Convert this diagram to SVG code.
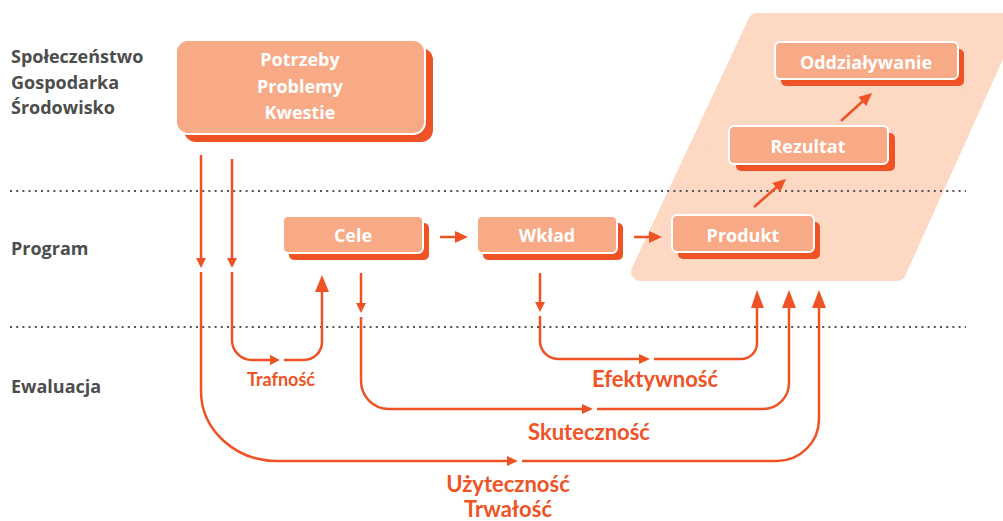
<svg xmlns="http://www.w3.org/2000/svg" width="1003" height="521" viewBox="0 0 1003 521">
<style>
.lbl{font-family:"Open Sans","Noto Sans",sans-serif;font-weight:700;font-size:18px;fill:#4d4d4d}
.bx{fill:#f8a985;stroke:#ffffff;stroke-width:2}
.sh{fill:#ef5325}
.bt{font-family:"Open Sans","Noto Sans",sans-serif;font-weight:700;font-size:18px;fill:#ffffff;text-anchor:middle}
.ol{font-family:Lato,"Open Sans",sans-serif;font-weight:700;font-size:22px;fill:#ef5325;text-anchor:middle}
.ln{fill:none;stroke:#ef5325;stroke-width:2.5}
.ah{fill:#ef5325}
.dot{fill:none;stroke:#555555;stroke-width:2;stroke-dasharray:2 4.2}
</style>
<rect width="1003" height="521" fill="#ffffff"/>
<g id="zone">
<polygon points="757,22 1010,22 897,272 640,272" fill="#fdd9c3" stroke="#fdd9c3" stroke-width="18" stroke-linejoin="round"/>
</g>
<g id="separators">
<path class="dot" d="M10,191 H966"/>
<path class="dot" d="M10,327 H966"/>
</g>
<g id="labels">
<text class="lbl" x="11" y="63">Społeczeństwo</text>
<text class="lbl" x="11" y="89">Gospodarka</text>
<text class="lbl" x="11" y="114">Środowisko</text>
<text class="lbl" x="11" y="255">Program</text>
<text class="lbl" x="11" y="393">Ewaluacja</text>
</g>
<g id="potrzeby">
<rect class="sh" x="184" y="48" width="249" height="94" rx="12"/>
<rect class="bx" x="176" y="40" width="249" height="94" rx="12"/>
<text class="bt" x="300" y="66">Potrzeby</text>
<text class="bt" x="300" y="93">Problemy</text>
<text class="bt" x="300" y="119">Kwestie</text>
</g>
<g id="cele">
<rect class="sh" x="289" y="223" width="140" height="37" rx="5"/>
<rect class="bx" x="283" y="216" width="140" height="37" rx="5"/>
<text class="bt" x="353" y="242">Cele</text>
</g>
<g id="wklad">
<rect class="sh" x="483" y="223" width="140" height="37" rx="5"/>
<rect class="bx" x="477" y="216" width="140" height="37" rx="5"/>
<text class="bt" x="547" y="242">Wkład</text>
</g>
<g id="produkt">
<rect class="sh" x="678" y="222" width="142" height="37" rx="5"/>
<rect class="bx" x="672" y="215" width="142" height="37" rx="5"/>
<text class="bt" x="743" y="242">Produkt</text>
</g>
<g id="rezultat">
<rect class="sh" x="736" y="133" width="159" height="38" rx="5"/>
<rect class="bx" x="729" y="126" width="159" height="38" rx="5"/>
<text class="bt" x="808" y="153">Rezultat</text>
</g>
<g id="oddzialywanie">
<rect class="sh" x="781" y="49" width="183" height="37" rx="5"/>
<rect class="bx" x="775" y="42" width="183" height="37" rx="5"/>
<text class="bt" x="866" y="69">Oddziaływanie</text>
</g>
<g id="connectors">
<path class="ln" d="M440,237 H457"/>
<polygon class="ah" points="455,231 468,237 455,243"/>
<path class="ln" d="M634,237 H651"/>
<polygon class="ah" points="649,231 662,237 649,243"/>
<path class="ln" d="M754,207 L778,186"/>
<polygon class="ah" points="772.2,183.1 786,179 780.2,192.1"/>
<path class="ln" d="M841,121 L864,100"/>
<polygon class="ah" points="858.3,97.1 872,93 866.2,106.1"/>
<path class="ln" d="M232,159 V260"/>
<polygon class="ah" points="227,258 237,258 232,268"/>
<path class="ln" d="M232,272 V340 A20,20 0 0 0 252,360 H271"/>
<polygon class="ah" points="270,355 280,360 270,365"/>
<path class="ln" d="M284,360 H304 A18,18 0 0 0 322,342 V290"/>
<polygon class="ah" points="315,292 329,292 322,275"/>
<path class="ln" d="M201,155 V260"/>
<polygon class="ah" points="196,258 206,258 201,268"/>
<path class="ln" d="M201,272 V391 A76,70 0 0 0 277,461 H509"/>
<polygon class="ah" points="507,456 518,461 507,466"/>
<path class="ln" d="M522,461 H777 A42,42 0 0 0 819,419 V306"/>
<polygon class="ah" points="812,308 826,308 819,290"/>
<path class="ln" d="M361,273 V305"/>
<polygon class="ah" points="356,303 366,303 361,313"/>
<path class="ln" d="M361,317 V381 A28,28 0 0 0 389,409 H584"/>
<polygon class="ah" points="582,404 593,409 582,414"/>
<path class="ln" d="M597,409 H763 A26,26 0 0 0 789,383 V306"/>
<polygon class="ah" points="782,308 796,308 789,290"/>
<path class="ln" d="M540,273 V304"/>
<polygon class="ah" points="535,302 545,302 540,312"/>
<path class="ln" d="M540,316 V341 A18,18 0 0 0 558,359 H641"/>
<polygon class="ah" points="639,354 650,359 639,364"/>
<path class="ln" d="M654,359 H741 A16,16 0 0 0 757,343 V306"/>
<polygon class="ah" points="751,308 764,308 757,290"/>
</g>
<g id="criteria">
<text class="ol" x="281" y="386" style="font-size:18px">Trafność</text>
<text class="ol" x="655" y="387">Efektywność</text>
<text class="ol" x="589" y="440">Skuteczność</text>
<text class="ol" x="508" y="492">Użyteczność</text>
<text class="ol" x="508" y="517">Trwałość</text>
</g>
</svg>
